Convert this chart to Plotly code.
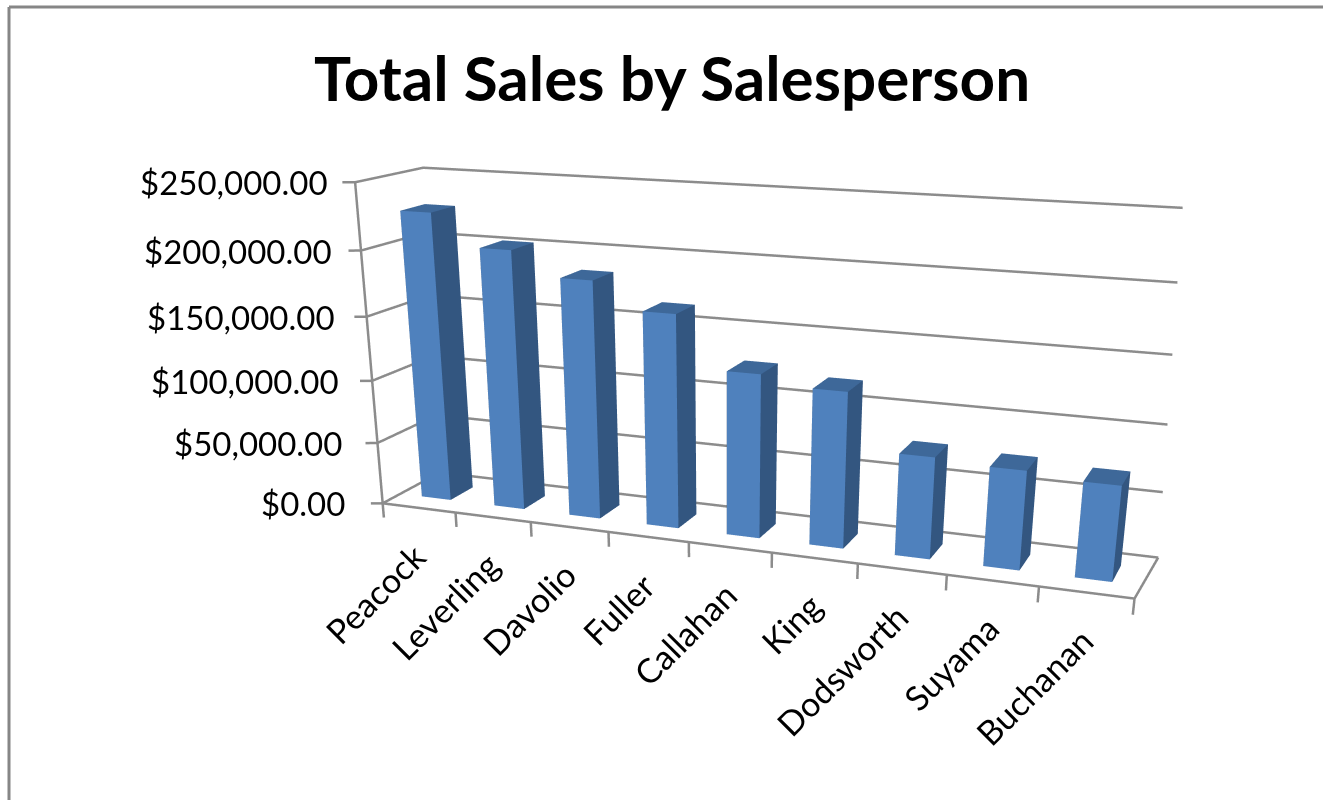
import numpy as np
import plotly.graph_objects as go

# Chart data
names = ["Peacock", "Leverling", "Davolio", "Fuller", "Callahan", "King", "Dodsworth", "Suyama", "Buchanan"]
sales = [226600, 202800, 184800, 164900, 126000, 119000, 77300, 74600, 71000]
z_ticks = [0, 50000, 100000, 150000, 200000, 250000]
z_labels = ["$0.00", "$50,000.00", "$100,000.00", "$150,000.00", "$200,000.00", "$250,000.00"]

W = 1323

# Camera of the 3D box: a long lens, so the scene is taller than the visible page
EYE = np.array([1.4671, -3.9838, 0.9997])
CENTER = np.array([0.3210, -1.0218, -0.4554])
BOX_HALF = np.array([1.0, 0.1540, 0.4158])
SCENE_CX = 724.59
FOCAL = 1728.54
SCENE_H = 2 * FOCAL * np.tan(np.pi / 8)

x_range = [-0.25, 9.06]
y_range = [-0.1, 1.05]
z_range = [-14000, 256000]
plot_box = [(0, 9), (0, 1), (0, 250000)]

# The axis ranges run a little past the plot box so its edges are not clipped
aspect, shift = [], []
for k, rng in enumerate((x_range, y_range, z_range)):
    span = plot_box[k][1] - plot_box[k][0]
    aspect.append(2 * BOX_HALF[k] * (rng[1] - rng[0]) / span)
    shift.append(((rng[0] + rng[1]) - sum(plot_box[k])) / span * BOX_HALF[k])
eye = EYE - np.array(shift)
center = CENTER - np.array(shift)

fig = go.Figure()

# Bars as one mesh with flat-coloured faces
FRONT, SIDE, TOP = "#4f81bd", "#335680", "#3e6899"
faces = [((0, 1, 3, 2), SIDE), ((4, 5, 7, 6), SIDE), ((0, 1, 5, 4), FRONT),
         ((2, 3, 7, 6), SIDE), ((0, 2, 6, 4), SIDE), ((1, 3, 7, 5), TOP)]
vx, vy, vz, ii, jj, kk, fc = [], [], [], [], [], [], []
for n, v in enumerate(sales):
    b = len(vx)
    for a in (n + .3, n + .7):
        for d in (.3, .7):
            for h in (0, v):
                vx.append(a); vy.append(d); vz.append(h)
    for q, col in faces:
        ii += [b + q[0], b + q[0]]
        jj += [b + q[1], b + q[2]]
        kk += [b + q[2], b + q[3]]
        fc += [col, col]
fig.add_trace(go.Mesh3d(x=vx, y=vy, z=vz, i=ii, j=jj, k=kk, facecolor=fc, flatshading=True,
                        lighting=dict(ambient=1, diffuse=0, specular=0, fresnel=0, roughness=1),
                        hoverinfo="skip"))


def line(xs, ys, zs):
    fig.add_trace(go.Scatter3d(x=xs, y=ys, z=zs, mode="lines",
                               line=dict(color="#8c8c8c", width=5), hoverinfo="skip"))


# Gridlines across the side and back walls, each with its tick on the value axis
for z in z_ticks:
    frac = z / 250000
    line([-.13, 0, 0.065 * frac, 9.04 - 0.14 * frac], [-.04, 0, 1, 1], [z] * 4)

# Value axis, floor outline and category ticks
line([0, 0], [0, 0], [0, 250000])
line([0, 9, 9.04], [0, 0, 1], [0, 0, 0])
for i in range(10):
    line([i, i], [0, 0], [0, -12000])

anns = []
for n, name in enumerate(names):
    anns.append(dict(x=n + .5, y=0, z=0, text=name, showarrow=False, textangle=-45,
                     xanchor="right", yanchor="top", xshift=17, yshift=-24,
                     font=dict(family="Lato", size=34, color="black")))
for z, t in zip(z_ticks, z_labels):
    anns.append(dict(x=0, y=0, z=z, text=t, showarrow=False, xanchor="right", yanchor="middle",
                     xshift=-36 + 11 * z / 250000,
                     font=dict(family="Lato", size=33, color="black")))

fig.update_layout(
    width=W, height=SCENE_H, margin=dict(l=0, r=0, t=0, b=0), paper_bgcolor="white", showlegend=False,
    scene=dict(
        domain=dict(x=[(SCENE_CX - (W - SCENE_CX)) / W, 1], y=[0, 1]),
        aspectmode="manual", aspectratio=dict(x=aspect[0], y=aspect[1], z=aspect[2]),
        camera=dict(eye=dict(x=eye[0], y=eye[1], z=eye[2]),
                    center=dict(x=center[0], y=center[1], z=center[2]),
                    up=dict(x=0, y=0, z=1), projection=dict(type="perspective")),
        xaxis=dict(range=x_range, visible=False),
        yaxis=dict(range=y_range, visible=False),
        zaxis=dict(range=z_range, visible=False),
        annotations=anns),
    annotations=[dict(x=672 / W, y=1 - 77 / SCENE_H, xref="paper", yref="paper", yanchor="middle",
                      text="<b>Total Sales by Salesperson</b>", showarrow=False,
                      font=dict(family="Lato", size=62, color="black"))],
    shapes=[dict(type="line", xref="paper", yref="paper", x0=9 / W, x1=1, y0=1 - 7 / SCENE_H, y1=1 - 7 / SCENE_H,
                 line=dict(color="#868686", width=3)),
            dict(type="line", xref="paper", yref="paper", x0=9 / W, x1=9 / W, y0=0, y1=1 - 7 / SCENE_H,
                 line=dict(color="#868686", width=3))])
fig.write_html("out.html", post_script="document.documentElement.style.overflow='hidden';")
